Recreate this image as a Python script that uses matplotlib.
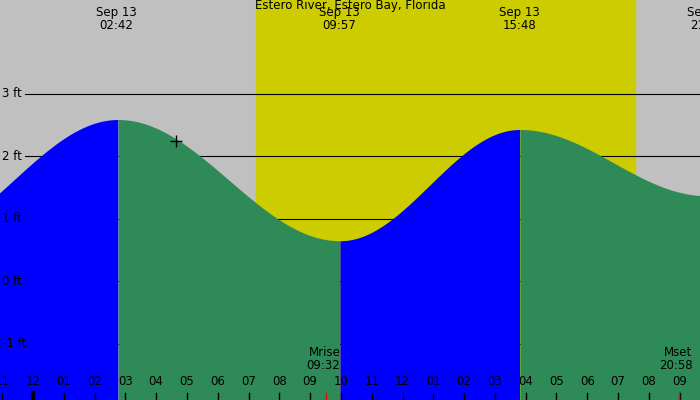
import numpy as np
import matplotlib.pyplot as plt

# tide extremes: hours from midnight Sep 13, height in ft
ext_hours = [-4.0, 2.78, 9.98, 15.82, 21.9]
ext_heights = [0.64, 2.58, 0.64, 2.42, 1.36]
ext_labels = [None, "Sep 13\n02:42", "Sep 13\n09:57", "Sep 13\n15:48", "Sep 13\n21:54"]
label_hours = [None, 2.7, 9.95, 15.8, 21.9]

sunrise, sunset = 7.24, 19.55
moon_events = [("Mrise\n09:32", 9.53), ("Mset\n20:58", 20.97)]
hour_labels = ["11", "12", "01", "02", "03", "04", "05", "06", "07", "08", "09", "10",
               "11", "12", "01", "02", "03", "04", "05", "06", "07", "08", "09"]
ft_ticks = [3, 2, 1, 0, -1]
marker = (4.64, 2.24)

x0, x1 = -1.07, 21.66
y0, y1 = -1.9, 4.5


def tide(h):
    out = np.empty_like(h)
    for i in range(len(ext_hours) - 1):
        ta, tb = ext_hours[i], ext_hours[i + 1]
        ha, hb = ext_heights[i], ext_heights[i + 1]
        m = (h >= ta) & (h <= tb)
        f = (h[m] - ta) / (tb - ta)
        out[m] = ha + (hb - ha) * (1 - np.cos(np.pi * f)) / 2
    return out


fig = plt.figure(figsize=(7, 4), dpi=100)
ax = fig.add_axes([0, 0, 1, 1])
ax.set_xlim(x0, x1)
ax.set_ylim(y0, y1)
ax.axis("off")

ax.axvspan(x0, x1, color="#c0c0c0", zorder=0)
ax.axvspan(sunrise, sunset, color="#cccc00", zorder=0)

for v in ft_ticks:
    ax.plot([x0 + 0.8, x1], [v, v], color="black", lw=0.8, zorder=1)
    ax.text(x0 + 0.05, v, f"{v} ft", fontsize=8.5, va="center", ha="left", zorder=5)

hh = np.linspace(x0, x1, 2000)
yy = tide(hh)
rising = np.zeros_like(hh, dtype=bool)
for i in range(len(ext_hours) - 1):
    m = (hh >= ext_hours[i]) & (hh <= ext_hours[i + 1])
    rising[m] = ext_heights[i + 1] > ext_heights[i]
ax.fill_between(hh, y0, yy, where=rising, color="#0000ff", lw=0, zorder=2)
ax.fill_between(hh, y0, yy, where=~rising, color="#2e8b57", lw=0, zorder=2)

ax.plot(*marker, marker="+", color="black", ms=8, mew=1, zorder=4)

for h, lab in zip(label_hours, ext_labels):
    if lab:
        ax.text(h, y1 - 0.1, lab, ha="center", va="top", fontsize=8.5, linespacing=0.95, zorder=5)
ax.text((x0 + x1) / 2, y1 + 0.02, "Estero River, Estero Bay, Florida", ha="center", va="top",
        fontsize=8.5, zorder=5)

for i, lab in enumerate(hour_labels):
    h = i - 1
    ax.text(h, y0 + 0.3, lab, ha="center", va="center", fontsize=8.5, zorder=5)
    ax.plot([h, h], [y0, y0 + 0.12], color="black", lw=3 if lab == "12" and h == 0 else 1, zorder=5)

for lab, h in moon_events:
    ax.text(h + 0.45, y0 + 0.45, lab, ha="right", va="bottom", fontsize=8.5, linespacing=0.95, zorder=5)
    ax.plot([h, h], [y0, y0 + 0.12], color="red", lw=1, zorder=5)

fig.savefig("out.png", dpi=100)
